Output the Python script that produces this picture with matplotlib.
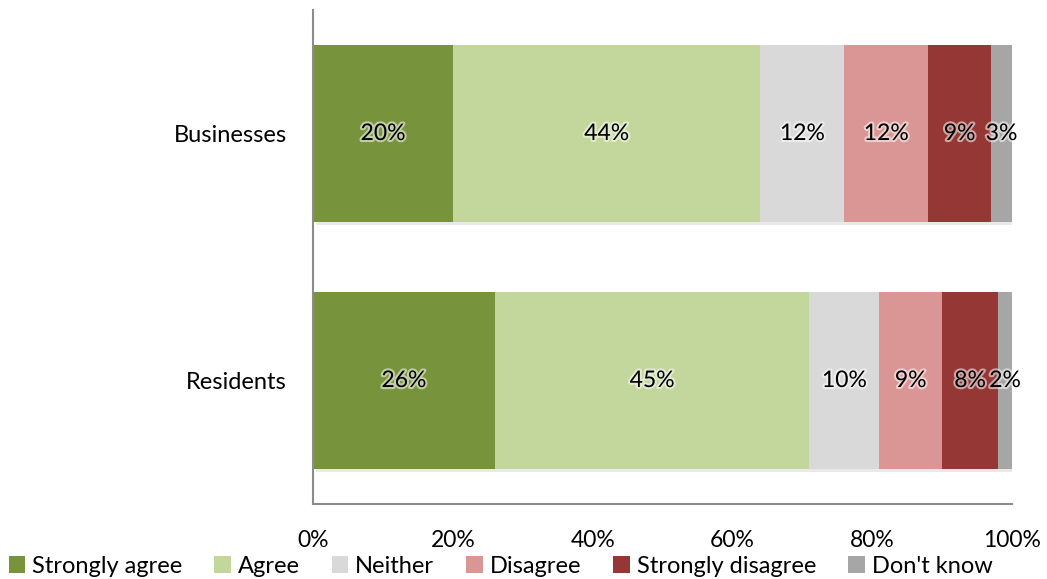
import matplotlib
matplotlib.use("Agg")
import matplotlib.pyplot as plt
import matplotlib.patheffects as pe
from matplotlib.patches import Patch

plt.rcParams['font.family'] = ['Lato', 'DejaVu Sans']

categories = ["Residents", "Businesses"]
series = ["Strongly agree", "Agree", "Neither", "Disagree", "Strongly disagree", "Don't know"]
values = {
    "Strongly agree":    [26, 20],
    "Agree":             [45, 44],
    "Neither":           [10, 12],
    "Disagree":          [9, 12],
    "Strongly disagree": [8, 9],
    "Don't know":        [2, 3],
}
colors = ["#77933C", "#C3D69B", "#D9D9D9", "#D99694", "#953735", "#A6A6A6"]
xticks = [0, 20, 40, 60, 80, 100]

fig = plt.figure(figsize=(10.47, 5.79), dpi=100)
ax = fig.add_axes([0.299, 0.1295, 0.6676, 0.8532])

ypos = list(range(len(categories)))
left = [0] * len(categories)
shadow = [pe.SimplePatchShadow(offset=(2, -2), shadow_rgbFace="#aaaaaa", alpha=0.25), pe.Normal()]
glow = [pe.withStroke(linewidth=3, foreground="white", alpha=0.55)]

for name, col in zip(series, colors):
    vals = values[name]
    bars = ax.barh(ypos, vals, left=left, height=0.715, color=col, edgecolor="none", zorder=2)
    for b in bars:
        b.set_path_effects(shadow)
    for y, v, l in zip(ypos, vals, left):
        ax.text(l + v / 2, y, f"{v}%", ha="center", va="center", fontsize=16.5,
                color="black", path_effects=glow, zorder=3)
    left = [a + b for a, b in zip(left, vals)]

ax.set_xlim(0, 100)
ax.set_ylim(-0.5, 1.5)
ax.set_yticks(ypos)
ax.set_yticklabels(categories, fontsize=17)
ax.set_xticks(xticks)
ax.set_xticklabels([f"{t}%" for t in xticks], fontsize=16.5)
ax.tick_params(axis="y", length=0, pad=19)
ax.tick_params(axis="x", length=0, pad=19)
for s in ["top", "right"]:
    ax.spines[s].set_visible(False)
for s in ["left", "bottom"]:
    ax.spines[s].set_color("#8C8C8C")
    ax.spines[s].set_linewidth(1.5)

handles = [Patch(facecolor=c, edgecolor="none") for c in colors]
fig.legend(handles, series, loc="center", bbox_to_anchor=(0.478, 0.022), ncol=6,
           frameon=False, fontsize=17, handlelength=0.7, handleheight=0.7,
           handletextpad=0.3, columnspacing=1.35)

fig.savefig("out.png", dpi=100)
